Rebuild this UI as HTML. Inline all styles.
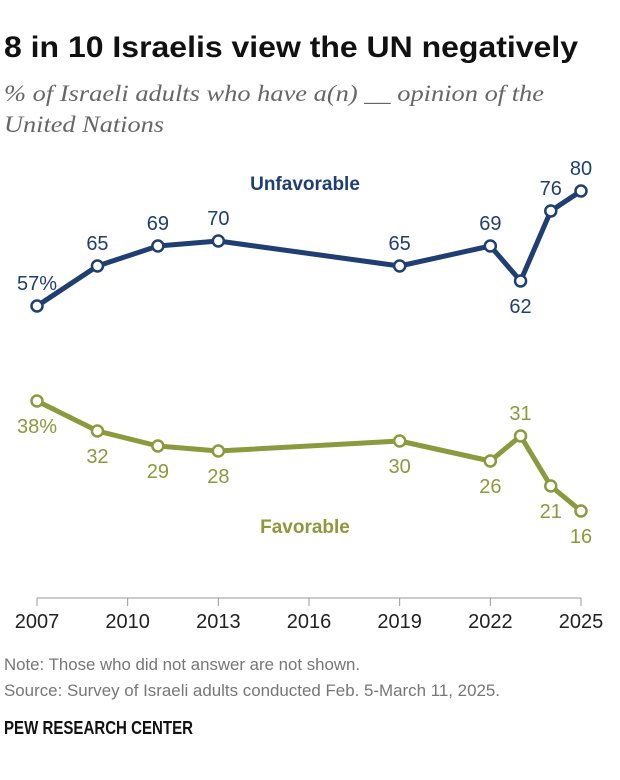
<!DOCTYPE html>
<html><head><meta charset="utf-8"><style>
body{margin:0;width:620px;height:780px;background:#fff;font-family:"Liberation Sans",sans-serif;overflow:hidden}
svg{position:absolute;left:0;top:0}
</style></head><body>
<svg width="620" height="780">
<text x="4" y="57" font-size="30" font-weight="bold" fill="#111" textLength="574" lengthAdjust="spacingAndGlyphs">8 in 10 Israelis view the UN negatively</text>
<text x="4" y="101" font-size="23" font-style="italic" font-family="Liberation Serif" fill="#666" textLength="540" lengthAdjust="spacingAndGlyphs">% of Israeli adults who have a(n) __ opinion of the</text>
<text x="4" y="132" font-size="23" font-style="italic" font-family="Liberation Serif" fill="#666" textLength="160" lengthAdjust="spacingAndGlyphs">United Nations</text>
<g id="axis"></g>
<g id="series"></g>
<text x="305" y="190" font-size="19" font-weight="bold" fill="#1f3f73" text-anchor="middle">Unfavorable</text>
<text x="305" y="533" font-size="19" font-weight="bold" fill="#8a9a3c" text-anchor="middle">Favorable</text>
<text x="4" y="670" font-size="17" fill="#777" textLength="356" lengthAdjust="spacingAndGlyphs">Note: Those who did not answer are not shown.</text>
<text x="4" y="696" font-size="17" fill="#777" textLength="496" lengthAdjust="spacingAndGlyphs">Source: Survey of Israeli adults conducted Feb. 5-March 11, 2025.</text>
<text x="4" y="734" font-size="18" font-weight="bold" fill="#111" textLength="189" lengthAdjust="spacingAndGlyphs">PEW RESEARCH CENTER</text>
</svg>
<script>
const years=[2007,2009,2011,2013,2019,2022,2023,2024,2025];
const unfav=[57,65,69,70,65,69,62,76,80];
const fav=[38,32,29,28,30,26,31,21,16];
const tickYears=[2007,2010,2013,2016,2019,2022,2025];
const NS="http://www.w3.org/2000/svg";
const X=y=>37+(y-2007)*(544/18);
const Y=v=>591-5*v;
function mk(t,a,p){const e=document.createElementNS(NS,t);for(const k in a)e.setAttribute(k,a[k]);p.appendChild(e);return e;}
const ax=document.getElementById('axis');
const base=mk('line',{x1:37,x2:581,y1:598,y2:598,stroke:'#999','stroke-width':1},ax);


tickYears.forEach(y=>{
 const t=mk('line',{x1:X(y),x2:X(y),y1:598,y2:606,stroke:'#999'},ax);
 
 
 const l=mk('text',{x:X(y),y:628,'font-size':20,'text-anchor':'middle',fill:'#222'},ax);
 l.textContent=y;
 
 
});
const sg=document.getElementById('series');
function series(vals,col,name,above){
 const pts=vals.map((v,i)=>X(years[i])+','+Y(v)).join(' ');
 const pl=mk('polyline',{points:pts,fill:'none',stroke:col,'stroke-width':5,'stroke-linejoin':'round'},sg);
 
 
 vals.forEach((v,i)=>{
  const c=mk('circle',{cx:X(years[i]),cy:Y(v),r:5.5,fill:'#fff',stroke:col,'stroke-width':2.5},sg);
  
  
  const up=above(i);
  const txt=(i===0)?v+'%':String(v);
  const t=mk('text',{x:X(years[i]),y:up?Y(v)-16:Y(v)+32,'font-size':20,'text-anchor':'middle',fill:col},sg);
  t.textContent=txt;
  
  
 });
}
series(unfav,'#1f3f73','unfavorable',i=>i!==6);
series(fav,'#8a9a3c','favorable',i=>i===6);
</script>
</body></html>
